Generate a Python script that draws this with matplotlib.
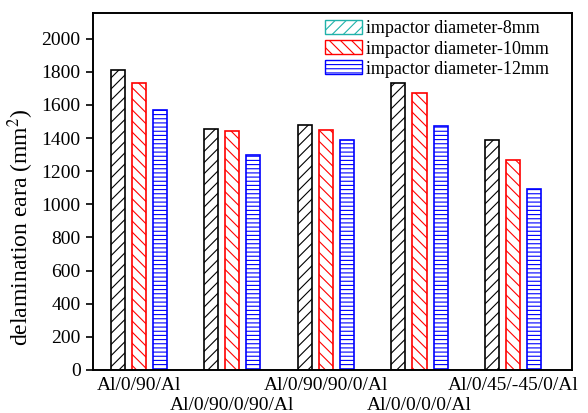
import matplotlib
matplotlib.use("Agg")
import matplotlib.pyplot as plt
from matplotlib.patches import Patch
import numpy as np

categories = ["Al/0/90/Al", "Al/0/90/0/90/Al", "Al/0/90/90/0/Al", "Al/0/0/0/0/Al", "Al/0/45/-45/0/Al"]
d8 = [1808, 1454, 1480, 1730, 1390]
d10 = [1732, 1440, 1450, 1670, 1265]
d12 = [1571, 1299, 1390, 1470, 1095]
labels = ["impactor diameter-8mm", "impactor diameter-10mm", "impactor diameter-12mm"]

plt.rcParams['font.family'] = ['Liberation Serif', 'DejaVu Serif']
plt.rcParams['hatch.linewidth'] = 0.8
plt.rcParams['mathtext.fontset'] = 'stix'

fig = plt.figure(figsize=(5.88, 4.13), dpi=100)
ax = fig.add_axes([93/588, 1-370/413, (572-93)/588, (370-13)/413])

x = np.arange(1, len(categories) + 1)
w = 0.15
off = 0.225
ax.bar(x - off, d8, w, facecolor='white', edgecolor='black', hatch='///', linewidth=1.2)
ax.bar(x, d10, w, facecolor='white', edgecolor='red', hatch='\\\\\\', linewidth=1.2)
ax.bar(x + off, d12, w, facecolor='white', edgecolor='blue', hatch='----', linewidth=1.2)

ax.set_xlim(0.51, 5.63)
ax.set_ylim(0, 2155)
ax.set_yticks(np.arange(0, 2001, 200))
ax.set_xticks(x)
ax.set_xticklabels(categories)
for i, t in enumerate(ax.get_xticklabels()):
    if i % 2 == 1:
        t.set_y(-0.055)
ax.tick_params(axis='x', length=0, pad=5, labelsize=14)
ax.tick_params(axis='y', direction='out', length=5, width=1.2, labelsize=14, pad=4)
for s in ax.spines.values():
    s.set_linewidth(1.4)
ax.set_ylabel("delamination eara (mm$^2$)", fontsize=17)
ax.yaxis.set_label_coords(-0.119, 0.40)

handles = [
    Patch(facecolor='white', edgecolor='#20b2aa', hatch='///', label=labels[0]),
    Patch(facecolor='white', edgecolor='red', hatch='\\\\\\', label=labels[1]),
    Patch(facecolor='white', edgecolor='blue', hatch='----', label=labels[2]),
]
ax.legend(handles=handles, loc='upper left', bbox_to_anchor=(0.484, 0.98),
          frameon=False, fontsize=13,
          handlelength=2.05, handleheight=0.83, handletextpad=0.22, labelspacing=0.15,
          borderaxespad=0, borderpad=0)

fig.savefig("out.png", dpi=100)
